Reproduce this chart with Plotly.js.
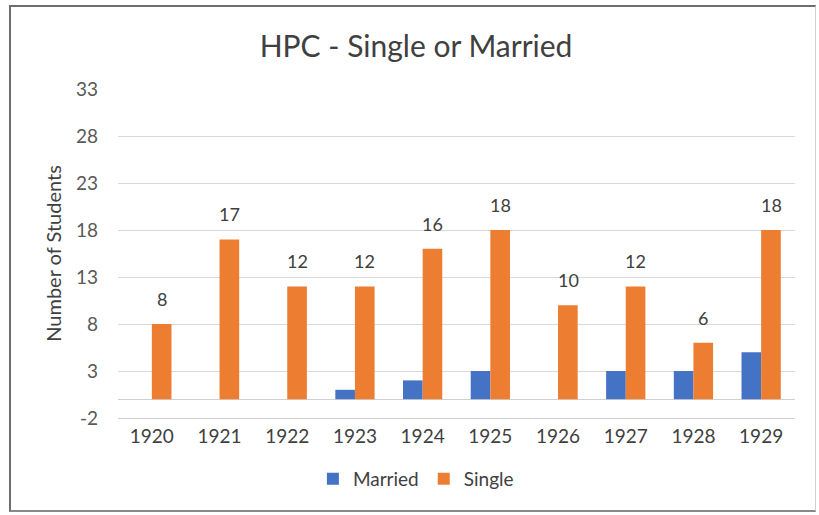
<!DOCTYPE html>
<html>
<head>
<meta charset="utf-8">
<script src="https://cdn.plot.ly/plotly-3.0.1.min.js"></script>
<style>
  body { margin: 0; background: #fff; }
  #frame {
    position: absolute; left: 9px; top: 5px; width: 807px; height: 507px;
    border-left: 2px solid #6e6e6e; border-top: 2px solid #6e6e6e;
    border-bottom: 2px solid #8a8a8a; border-right: 1px solid #d0d0d0;
    box-sizing: border-box; pointer-events: none;
  }
  #chart { width: 819px; height: 515px; }
</style>
</head>
<body>
<div id="chart"></div>
<div id="frame"></div>
<script>
  const years = ["1920", "1921", "1922", "1923", "1924", "1925", "1926", "1927", "1928", "1929"];
  const married = [0, 0, 0, 1, 2, 3, 0, 3, 3, 5];
  const single = [8, 17, 12, 12, 16, 18, 10, 12, 6, 18];
  const yTicks = [-2, 3, 8, 13, 18, 23, 28, 33];

  const FONT = "Lato, 'Open Sans', sans-serif";

  document.addEventListener("DOMContentLoaded", function() {
    drawChart();
  });

  function drawChart() {
    let marriedTrace = {
      x: years,
      y: married,
      name: "Married",
      type: "bar",
      marker: { color: "#4472C4" },
      hoverinfo: "none"
    };

    let singleTrace = {
      x: years,
      y: single,
      name: "Single",
      type: "bar",
      marker: { color: "#ED7D31" },
      hoverinfo: "none"
    };

    // value labels above the Single bars; category axis -> position by index
    let labels = years.map(function(yr, i) {
      return {
        x: i,
        y: single[i],
        xref: "x",
        yref: "y",
        text: String(single[i]),
        showarrow: false,
        xshift: 10,
        yshift: 25,
        font: { family: FONT, size: 18, color: "#404040" }
      };
    });

    let layout = {
      width: 819,
      height: 515,
      margin: { l: 118, r: 24, t: 89, b: 97 },
      paper_bgcolor: "#ffffff",
      plot_bgcolor: "#ffffff",
      font: { family: FONT, color: "#595959" },
      title: {
        text: "HPC - Single or Married",
        font: { size: 30, color: "#404040" },
        x: 0.508,
        xanchor: "center",
        y: 0.91,
        yanchor: "middle"
      },
      barmode: "group",
      bargap: 0.42,
      bargroupgap: 0,
      xaxis: {
        type: "category",
        range: [-0.5, years.length - 0.5],
        tickfont: { size: 19, color: "#404040" },
        showgrid: false,
        // the bottom line sits at the lowest tick (-2), like the gridlines
        showline: true,
        linecolor: "#cfcfcf",
        linewidth: 1,
        ticks: "",
        ticklabelstandoff: 1
      },
      yaxis: {
        range: [yTicks[0], yTicks[yTicks.length - 1]],
        tickvals: yTicks,
        ticktext: yTicks.map(String),
        tickfont: { size: 19, color: "#595959" },
        ticklabelstandoff: 19,
        showgrid: true,
        gridcolor: "#d9d9d9",
        gridwidth: 1,
        zeroline: true,
        zerolinecolor: "#d0d0d0",
        zerolinewidth: 1,
        showline: false,
        ticks: "",
        title: {
          text: "Number of Students",
          font: { size: 20, color: "#404040" },
          standoff: 8
        }
      },
      annotations: labels,
      showlegend: true,
      legend: {
        orientation: "h",
        x: 0.44,
        xanchor: "center",
        y: -0.185,
        yanchor: "middle",
        font: { size: 19, color: "#404040" },
        itemwidth: 30,
        traceorder: "normal"
      }
    };

    Plotly.newPlot("chart", [marriedTrace, singleTrace], layout, { staticPlot: true });
  }
</script>
</body>
</html>
